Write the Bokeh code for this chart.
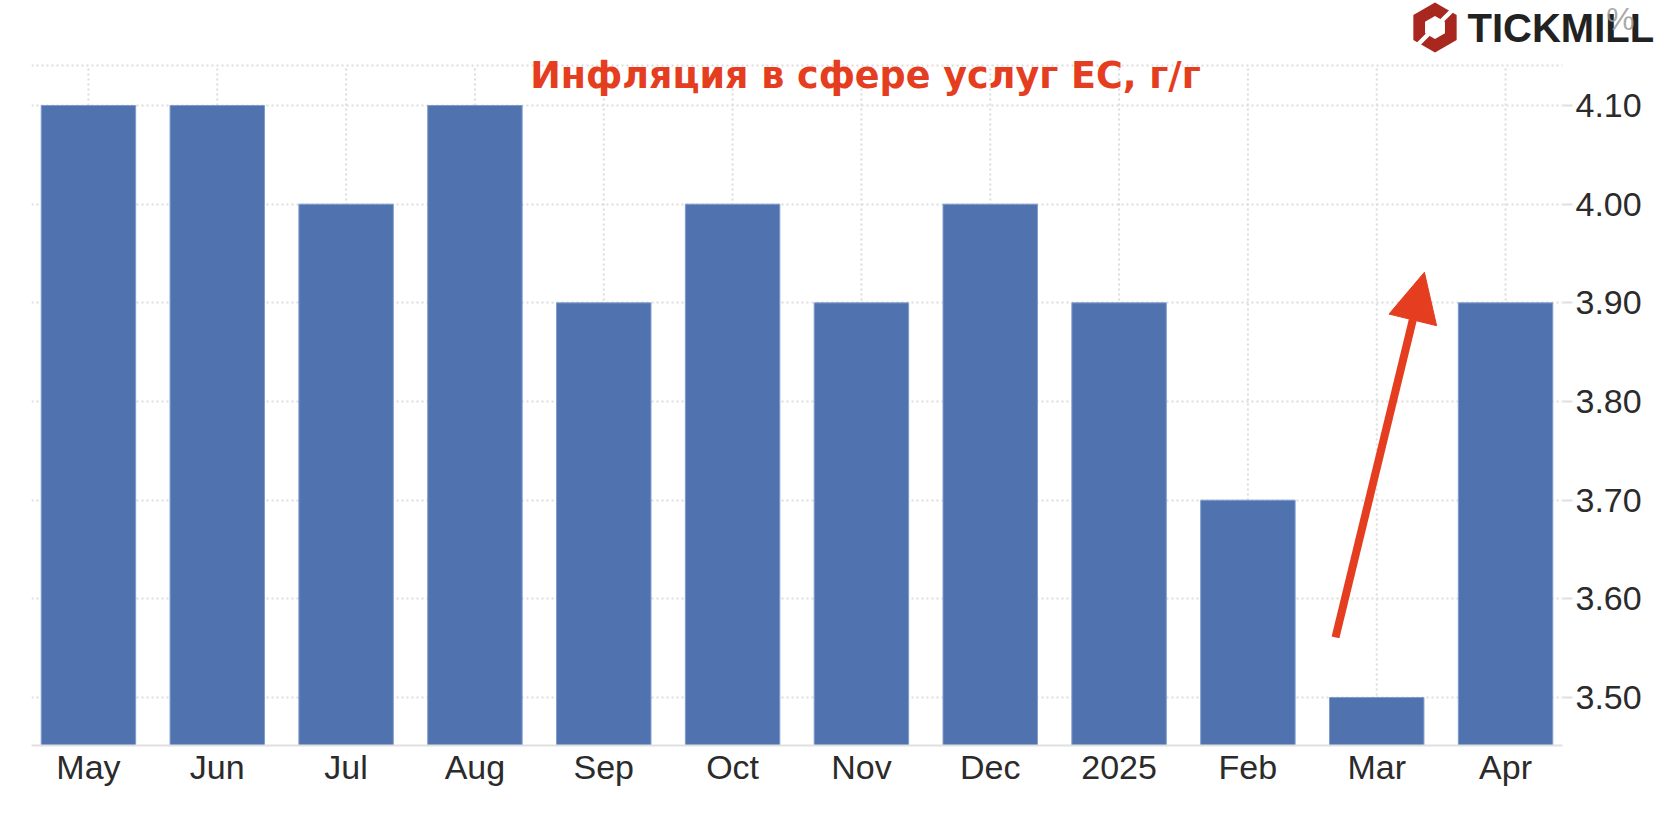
import math
from bokeh.plotting import figure
from bokeh.layouts import column
from bokeh.models import (FactorRange, Range1d, FixedTicker, Label,
                          Arrow, NormalHead, PrintfTickFormatter)
from bokeh.core.properties import value
from bokeh.embed import file_html
from bokeh.resources import INLINE

# ---- data ----
months = ["May", "Jun", "Jul", "Aug", "Sep", "Oct", "Nov", "Dec", "2025", "Feb", "Mar", "Apr"]
inflation = [4.1, 4.1, 4.0, 4.1, 3.9, 4.0, 3.9, 4.0, 3.9, 3.7, 3.5, 3.9]
y_ticks = [3.5, 3.6, 3.7, 3.8, 3.9, 4.0, 4.1]
title_text = "Инфляция в сфере услуг ЕС, г/г"
brand_text = "TICKMILL"
unit_text = "%"
Y_START, Y_TOPLINE, Y_FRAME_TOP = 3.4514, 4.1405, 4.1517
arrow_x = [10.18, 10.87]     # category (synthetic) coordinates
arrow_y = [3.561, 3.931]

BAR = "#5073AF"
RED = "#E53D20"
GRID = "#dcdcdc"
AXIS = "#e0e0e0"
TXT = "#2b2b2b"

W = 1658
HEAD_H = 54
MAIN_H = 758
X_PAD = -0.058
X_LEFT, X_RIGHT = -X_PAD / 2, len(months) + X_PAD / 2

# ---------------- header (logo) ----------------
hdr = figure(width=W, height=HEAD_H, x_range=Range1d(0, W), y_range=Range1d(HEAD_H, 0),
             output_backend="svg", toolbar_location=None,
             x_axis_location=None, y_axis_location=None,
             min_border_left=0, min_border_right=0, min_border_top=0, min_border_bottom=0)
hdr.outline_line_color = None
hdr.xgrid.visible = False
hdr.ygrid.visible = False

cx, cy, R, r = 1434.5, 27.0, 25.0, 11.5
def hexagon(rad):
    xs, ys = [], []
    for a in [90, 30, -30, -90, -150, 150]:
        xs.append(cx + rad * math.cos(math.radians(a)))
        ys.append(cy - rad * math.sin(math.radians(a)))
    return xs, ys
ox, oy = hexagon(R)
ix, iy = hexagon(r)
hdr.patch(ox, oy, fill_color="#A8271F", line_color=None)
hdr.patch(ix, iy, fill_color="white", line_color=None)
for sgn in (1, -1):
    d = (math.cos(math.radians(45)) * sgn, -math.sin(math.radians(45)) * sgn)
    n = (-d[1], d[0])
    t0, t1, hw = r - 2, R + 3, 2.2
    sx = [cx + d[0] * t0 + n[0] * hw, cx + d[0] * t1 + n[0] * hw,
          cx + d[0] * t1 - n[0] * hw, cx + d[0] * t0 - n[0] * hw]
    sy = [cy + d[1] * t0 + n[1] * hw, cy + d[1] * t1 + n[1] * hw,
          cy + d[1] * t1 - n[1] * hw, cy + d[1] * t0 - n[1] * hw]
    hdr.patch(sx, sy, fill_color="white", line_color=None)

hdr.text(x=[1467], y=[27], text=[brand_text], text_align="left", text_baseline="middle",
         text_font=value("Liberation Sans"), text_font_style="bold",
         text_font_size=value("40px"), text_color="#222222")
hdr.text(x=[1620], y=[18], text=[unit_text], text_align="center", text_baseline="middle",
         text_font=value("Liberation Sans"), text_font_size=value("32px"),
         text_color="#9a9a9a", text_alpha=0.85)

# ---------------- main chart ----------------
p = figure(x_range=FactorRange(*months, range_padding=X_PAD, range_padding_units="absolute"),
           y_range=Range1d(Y_START, Y_FRAME_TOP),
           width=W, height=MAIN_H, output_backend="svg", toolbar_location=None,
           y_axis_location="right",
           min_border_left=31, min_border_top=0, min_border_right=W - 1562,
           min_border_bottom=MAIN_H - (745 - HEAD_H))
p.outline_line_color = None
p.background_fill_color = "white"
p.border_fill_color = "white"

for fig in (hdr, p):
    try:
        fig.frame_align = False
    except Exception:
        pass

# vertical dotted grid lines at category centres (stop at the top line)
p.xgrid.visible = False
p.segment(x0=months, y0=Y_START, x1=months, y1=Y_TOPLINE,
          line_color=GRID, line_width=2, line_dash="2 3")

p.vbar(x=months, top=inflation, bottom=Y_START, width=0.733,
       fill_color=BAR, line_color="#7f9bcc", line_width=1)

# horizontal grid
p.ygrid.grid_line_color = GRID
p.ygrid.grid_line_width = 2
p.ygrid.grid_line_dash = "2 3"
p.ygrid.ticker = FixedTicker(ticks=y_ticks + [Y_TOPLINE])

# left and right frame lines (stop at the top line)
p.segment(x0=[X_LEFT, X_RIGHT], y0=Y_START, x1=[X_LEFT, X_RIGHT], y1=Y_TOPLINE,
          line_color=AXIS, line_width=4)

# right y axis
ya = p.yaxis[0]
ya.ticker = FixedTicker(ticks=y_ticks)
ya.formatter = PrintfTickFormatter(format="%.2f")
ya.axis_line_color = None
ya.major_tick_line_color = AXIS
ya.major_tick_line_width = 2
ya.major_tick_in = 0
ya.major_tick_out = 10
ya.minor_tick_line_color = None
ya.major_label_standoff = 3
ya.major_label_text_font = "Liberation Sans"
ya.major_label_text_font_size = "34px"
ya.major_label_text_color = TXT

# bottom x axis
xa = p.xaxis[0]
xa.axis_line_color = AXIS
xa.axis_line_width = 2
xa.major_tick_line_color = None
xa.major_tick_out = 0
xa.major_tick_in = 0
xa.major_label_standoff = 2
xa.major_label_text_font = "Liberation Sans"
xa.major_label_text_font_size = "34px"
xa.major_label_text_color = TXT

# arrow
p.add_layout(Arrow(x_start=arrow_x[0], y_start=arrow_y[0], x_end=arrow_x[1], y_end=arrow_y[1],
                   line_color=RED, line_width=8,
                   end=NormalHead(size=49, fill_color=RED, line_color=RED, line_width=1)))

# title (screen units are relative to the frame's bottom-left)
p.add_layout(Label(x=865 - 31, y=670, x_units="screen", y_units="screen", text=title_text,
                   text_align="center", text_baseline="alphabetic",
                   text_font="DejaVu Sans", text_font_style="bold",
                   text_font_size="36.5px", text_color=RED))

layout = column(hdr, p, spacing=0)
open("out.html", "w").write(file_html(layout, INLINE))
